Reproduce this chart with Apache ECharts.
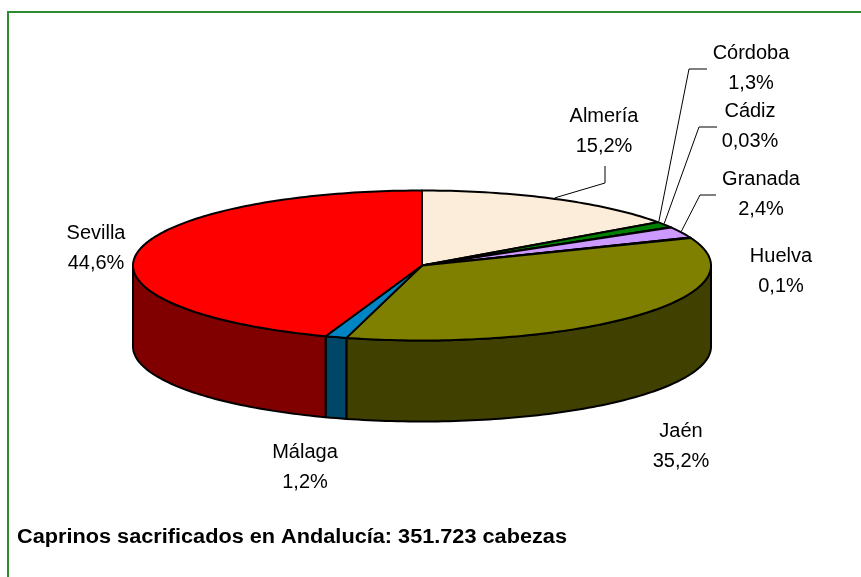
<!DOCTYPE html>
<html>
<head>
<meta charset="utf-8">
<style>html,body{margin:0;padding:0;background:#fff}#c{width:861px;height:577px}</style>
<script src="https://cdn.jsdelivr.net/npm/echarts@6/dist/echarts.min.js"></script>
</head>
<body>
<div id="c"></div>
<script>
// Data
const provinces = ['Almería','Córdoba','Cádiz','Granada','Huelva','Jaén','Málaga','Sevilla'];
const shares = [15.2,1.3,0.03,2.4,0.1,35.2,1.2,44.6];
const chartTitle = 'Caprinos sacrificados en Andalucía: 351.723 cabezas';

// Styles and layout (separate from data)
const topColors = ['#FBEDD9','#008000','#6FA8DC','#CC99FF','#00A0A0','#808000','#0085C4','#FF0000'];
const sideColors = ['#7F7766','#004000','#375470','#664C80','#005050','#404000','#004666','#800000'];
const labelCenters = [[604,131],[751,68],[750,126],[761,194],[781,271],[681,446],[305,467],[96,248]];
const leaderBends = {0:[[605,183],[605,166]],1:[[689,69],[707,69]],2:[[699,127],[717,127]],3:[[700,195],[716,195]]};
const leaderShift = {0:0,1:-2*Math.PI/180,2:-2.5*Math.PI/180,3:0};
const CX=422, CY=265.5, RX=289, RY=75, DEPTH=81;
const total = shares.reduce((a,b)=>a+b,0);
const fracBefore = i => shares.slice(0,i).reduce((a,b)=>a+b,0)/total;
const pt = (t,dy=0) => [CX+RX*Math.sin(t), CY-RY*Math.cos(t)+dy];
function arc(t0,t1,dy=0){
  const n=Math.max(2,Math.ceil(Math.abs(t1-t0)/0.02)), out=[];
  for(let k=0;k<=n;k++) out.push(pt(t0+(t1-t0)*k/n,dy));
  return out;
}
const line = {stroke:'#000',lineWidth:2,lineJoin:'round'};

function renderItem(params){
  const i=params.dataIndex;
  const t0=fracBefore(i)*2*Math.PI, t1=fracBefore(i+1)*2*Math.PI;
  const children=[];
  const a=Math.max(t0,Math.PI/2), b=Math.min(t1,Math.PI*1.5);
  if(b>a){
    children.push({type:'polygon',z2:1,
      shape:{points:arc(a,b).concat(arc(b,a,DEPTH))},
      style:Object.assign({fill:sideColors[i]},line)});
  }
  children.push({type:'polygon',z2:2,
    shape:{points:[[CX,CY]].concat(arc(t0,t1))},
    style:Object.assign({fill:topColors[i]},line)});
  if(leaderBends[i]){
    const tm=(t0+t1)/2+leaderShift[i];
    children.push({type:'polyline',z2:3,
      shape:{points:[pt(tm,-1)].concat(leaderBends[i])},
      style:{stroke:'#000',lineWidth:1,fill:null}});
  }
  children.push({type:'text',z2:4,x:labelCenters[i][0],y:labelCenters[i][1],
    style:{text:provinces[i]+'\n'+String(shares[i]).replace('.',',')+'%',
      font:'20px "Liberation Sans", Arial, sans-serif',lineHeight:30,
      fill:'#000',align:'center',verticalAlign:'middle'}});
  return {type:'group',children};
}

const chart=echarts.init(document.getElementById('c'),null,{renderer:'canvas'});
chart.setOption({
  animation:false,
  backgroundColor:'#fff',
  graphic:[
    {type:'line',z:-1,shape:{x1:7,y1:12,x2:861,y2:12},style:{stroke:'#2E8B2E',lineWidth:2}},
    {type:'line',z:-1,shape:{x1:8,y1:11,x2:8,y2:577},style:{stroke:'#2E8B2E',lineWidth:2}},
    {type:'text',x:17,y:537,scaleX:1.085,
      style:{text:chartTitle,font:'bold 20px "Liberation Sans", Arial, sans-serif',fill:'#000',align:'left',verticalAlign:'middle'}}
  ],
  series:[{type:'custom',coordinateSystem:'none',silent:true,
    data:shares.map((v,i)=>({name:provinces[i],value:[v]})),
    renderItem}]
});
</script>
</body>
</html>
